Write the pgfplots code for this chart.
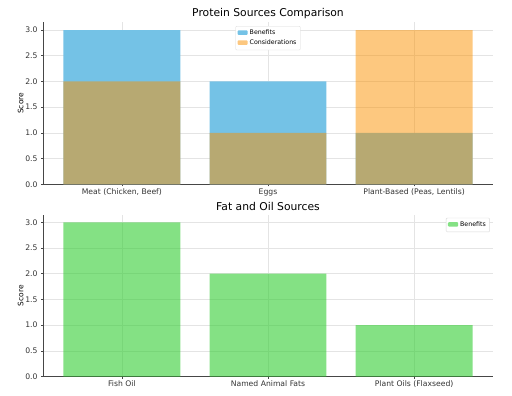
\documentclass[border=0pt]{standalone}
\usepackage{fontspec}
\setmainfont{DejaVu Sans}
\usepackage{pgfplots}
\pgfplotsset{compat=1.18}
\definecolor{bblue}{RGB}{116,194,230}
\definecolor{borange}{RGB}{251,145,0}
\definecolor{bgreen}{RGB}{50,205,50}
\definecolor{gridc}{RGB}{228,228,228}
\definecolor{axc}{RGB}{70,70,70}
\pgfplotsset{mystyle/.style={
  scale only axis, width=450bp, height=162bp,
  xmin=-0.54, xmax=2.54, ymin=0, ymax=3.15,
  axis x line*=bottom, axis y line*=left,
  axis line style={axc, line width=0.7pt},
  xtick={0,1,2}, ytick={0,0.5,1,1.5,2,2.5,3},
  /pgf/number format/assume math mode=true,
  yticklabel style={/pgf/number format/.cd, fixed, fixed zerofill, precision=1},
  tick label style={font=\fontsize{7.7}{8.5}\selectfont, text=black!80},
  xticklabel style={yshift=1pt},
  label style={font=\fontsize{7.5}{8.5}\selectfont},
  title style={font=\fontsize{10.8}{12}\selectfont, yshift=-5.5pt},
  grid=major, major grid style={gridc, line width=0.5pt},
  major tick length=2pt, tick style={axc, line width=0.5pt},
  tick align=outside,
  xtick pos=bottom, ytick pos=left,
  ylabel=Score,
  ylabel style={yshift=-5pt},
  ybar, bar width=0.8,
  legend style={font=\fontsize{6.3}{7}\selectfont, draw=black!15, rounded corners=1pt, inner sep=1.8pt, row sep=-0.3pt},
  legend image code/.code={\fill[##1] (0cm,-0.06cm) rectangle (0.36cm,0.1cm);},
}}
\begin{document}
\begin{tikzpicture}
\path[use as bounding box] (0,0) rectangle (512bp,-396bp);
\begin{axis}[mystyle, at={(43bp,-22.3bp)}, anchor=north west,
  title={Protein Sources Comparison},
  xticklabels={{Meat (Chicken, Beef)},Eggs,{Plant-Based (Peas, Lentils)}},
  legend style={at={(0.5,0.977)}, anchor=north, legend cell align=left}]
\addplot[fill=bblue, draw=none, bar shift=0pt] coordinates {(0,3) (1,2) (2,1)};
\addplot[fill=borange, fill opacity=0.5, draw=none, bar shift=0pt] coordinates {(0,2) (1,1) (2,3)};
\legend{Benefits,Considerations}
\end{axis}
\begin{axis}[mystyle, at={(43bp,-214.6bp)}, anchor=north west,
  title={Fat and Oil Sources},
  xticklabels={Fish Oil,Named Animal Fats,Plant Oils (Flaxseed)},
  legend style={at={(0.993,0.98)}, anchor=north east, legend cell align=left}]
\addplot[fill=bgreen, fill opacity=0.6, draw=none, bar shift=0pt] coordinates {(0,3) (1,2) (2,1)};
\legend{Benefits}
\end{axis}
\end{tikzpicture}
\end{document}
